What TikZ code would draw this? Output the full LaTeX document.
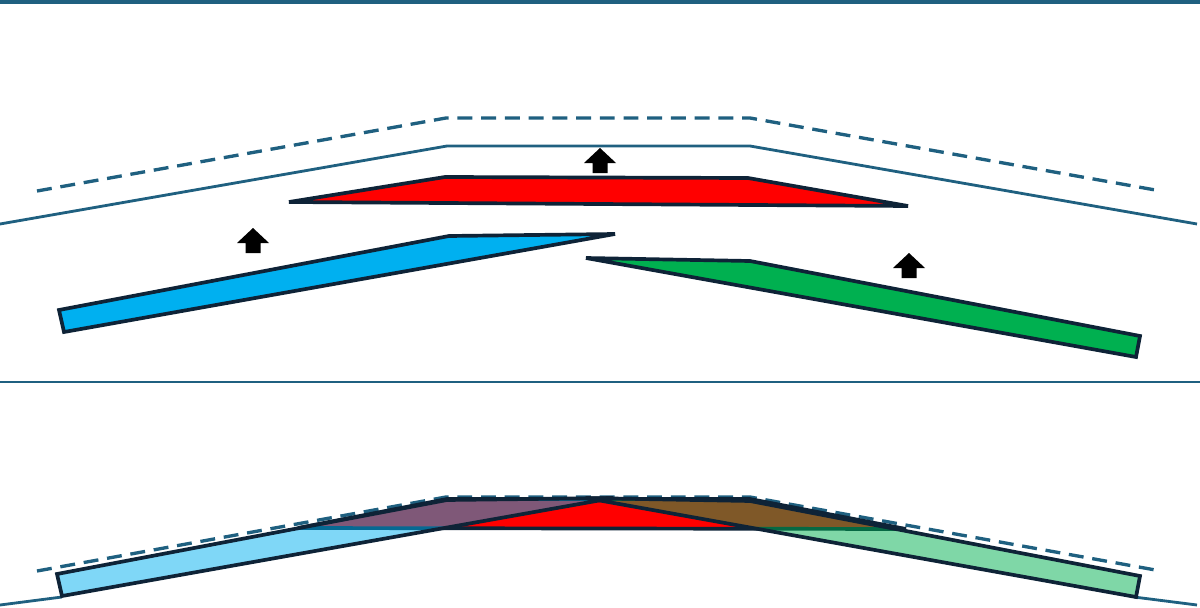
\documentclass[tikz,border=0pt]{standalone}
\usetikzlibrary{positioning}

\definecolor{lineteal}{RGB}{31,96,128}
\definecolor{edgedark}{RGB}{14,35,55}
\definecolor{plateblue}{RGB}{0,176,240}
\definecolor{platered}{RGB}{255,0,0}
\definecolor{plategreen}{RGB}{0,176,80}

\tikzset{
  guide/.style={draw=lineteal, line width=1.6pt},
  guidedash/.style={guide, line width=1.9pt, dash pattern=on 8.5pt off 5pt},
  plate/.style={draw=edgedark, line width=2.1pt, line join=miter},
  push/.style={fill=black}
}

\begin{document}
\begin{tikzpicture}[x=0.02cm, y=-0.02cm]
    \useasboundingbox (0,0) rectangle (1200,608);

    % frame lines
    \draw[guide, line width=1.8pt] (0,2) -- (1200,2);
    \draw[guide] (0,382) -- (1200,382);

    % upper panel: target and reference profiles
    \draw[guidedash] (37,191) -- (446,118) -- (750,118) -- (1161,191);
    \draw[guide] (0,224) -- (447,146) -- (750,146) -- (1197,224);

    % upper panel: plates
    \draw[plate, fill=platered] (289,202) -- (445,177) -- (748,178) -- (908,206) -- cycle;
    \draw[plate, fill=plateblue] (59,310) -- (449,236) -- (615,234) -- (64,332) -- cycle;
    \draw[plate, fill=plategreen] (586,258) -- (750,261) -- (1140,336) -- (1136,357) -- cycle;

    % push arrows
    \foreach \x/\y in {253/228, 600/148, 909/253}
      \fill[push] (\x,\y) -- ++(16,15) -- ++(-8.5,0) -- ++(0,10) -- ++(-15,0) -- ++(0,-10) -- ++(-8.5,0) -- cycle;

    % lower panel: profiles
    \draw[guidedash] (37,571) -- (446,497) -- (750,497) -- (1161,571);
    \draw[guide] (0,605) -- (62,597);
    \draw[guide] (1134,597) -- (1197,605);

    % lower panel: plates pushed into place
    \draw[plate, fill=platered] (298,528) -- (447,499) -- (750,499) -- (906,529) -- cycle;
    \begin{scope}[shift={(-2,264)}]
      \draw[plate, fill=plateblue, fill opacity=0.5] (59,310) -- (449,236) -- (615,234) -- (64,332) -- cycle;
    \end{scope}
    \begin{scope}[shift={(0,240)}]
      \draw[plate, fill=plategreen, fill opacity=0.5] (586,258) -- (750,261) -- (1140,336) -- (1136,357) -- cycle;
    \end{scope}
\end{tikzpicture}
\end{document}
